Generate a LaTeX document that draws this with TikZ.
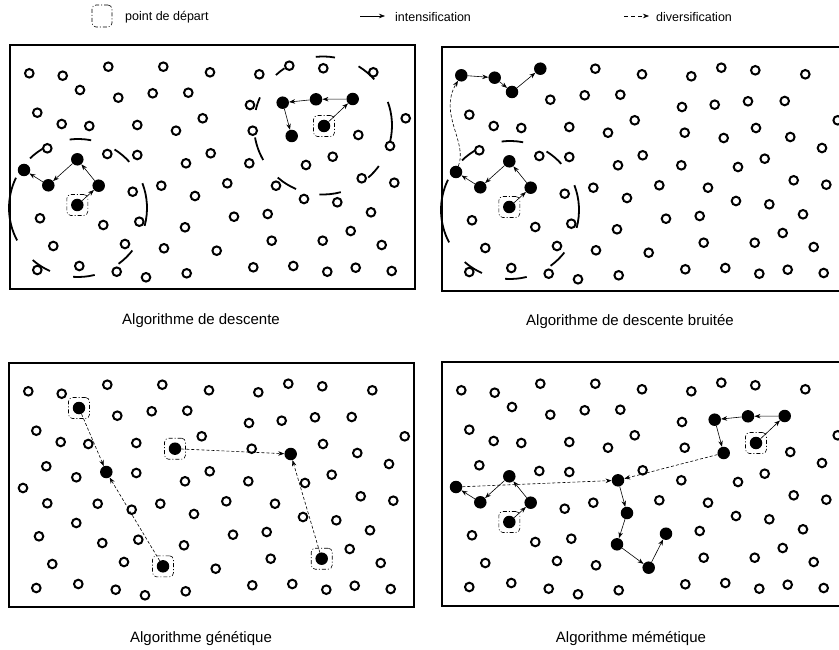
\documentclass[tikz,border=0pt]{standalone}
\usepackage{fontspec}
\setmainfont{Liberation Sans}
\usetikzlibrary{arrows.meta}

\tikzset{
  opt/.style={circle, draw, line width=2pt, minimum size=8.6pt, inner sep=0pt},
  fpt/.style={circle, fill=black, minimum size=12.5pt, inner sep=0pt},
  startbox/.style={rectangle, rounded corners=4pt, draw, line width=0.6pt,
    dash pattern=on 4pt off 2pt on 1pt off 2pt, minimum width=21pt, minimum height=21pt, inner sep=0pt},
  intarrow/.style={-{Stealth[length=6pt,width=4.5pt]}, line width=0.6pt},
  divarrow/.style={-{Stealth[length=6pt,width=4.5pt]}, line width=0.6pt, dash pattern=on 3pt off 2pt},
  panelframe/.style={line width=2pt},
  bigarc/.style={line width=1.8pt},
  lgd/.style={font=\fontsize{12.5}{14}\selectfont, inner sep=0pt},
  lbl/.style={font=\fontsize{15}{17}\selectfont, inner sep=0pt},
}

\newcommand\basepts{29.3/73.3, 62.7/75.7, 108.3/66.7, 163.3/66.7, 210/72.3, 80/90, 118.3/97.7, 152.7/93.3, 188.3/92.7, 37.3/112.7, 61.7/124, 89.3/126, 137.3/125, 176/130.7, 202.7/118.3, 47.3/148.3, 107.3/154, 137.3/155, 186/163.3, 210.7/153.3, 24/170, 48.3/185.3, 77.3/159.3, 98.7/185.7, 77.3/205, 132.7/191.7, 161.3/185.7, 195/196, 40/218.3, 103.3/225, 139.3/221.7, 185/227.3, 53.3/246, 125/244, 164/248.3, 216.7/250.7, 37.3/270, 79.3/266, 116.7/271.7, 146/277.3, 186.7/273.3, 259.3/74.3, 289.3/65.7, 323.3/68.3, 373.3/72.3, 250/105, 282.7/102.7, 316/99.3, 352.7/99, 291.7/136, 324/126, 405.7/118.3, 252.7/130.7, 358.3/135, 390/146, 249.3/163.3, 306/165, 332.7/156.7, 227.3/183.3, 276/185.7, 361.7/178.3, 394.3/182.7, 304/199, 337.3/202.3, 234/216.7, 267.7/214, 371/212.3, 350.7/231, 271.7/240.7, 322.7/240.7, 381.7/245, 253.3/267.3, 293.3/266, 327.3/271.7, 355.7/267.7, 391.7/271}

\newcommand\drawpanel[1]{%
  \draw[panelframe] (10,45) rectangle (415,289);
  \foreach \x/\y [count=\i] in \basepts {\node[opt] (#1\i) at (\x,\y) {};}
}
\newcommand\filledpt[2]{\node[fpt] (#1F#2) at (#1#2) {};}
\newcommand\startpt[2]{\node[startbox] (#1S#2) at (#1#2) {};}

\newcommand\leftcircle{%
  \foreach \a/\b in {79/97, 121/134, 154/208, 229/246, 266/284, 306/322, -15/21, 42/58}
    {\draw[bigarc] (78,208) ++(-\a:69) arc[start angle=-\a, end angle=-\b, radius=69];}
}
\newcommand\rightcircle{%
  \foreach \a/\b in {80/96, 42/59, -13/20, 311/324, 267/285, 229/247, 190/210, 156/167, 124/133}
    {\draw[bigarc] (323,125.5) ++(-\a:69) arc[start angle=-\a, end angle=-\b, radius=69];}
}

\begin{document}
\begin{tikzpicture}[x=1pt, y=-1pt]
\useasboundingbox (0,0) rectangle (839,650);
\clip (0,0) rectangle (839,650);

% legend
\node[startbox, minimum width=20pt, minimum height=22pt] (legbox) at (102,16) {};
\node[lgd, anchor=west] (legtext1) at (125,17) {point de départ};
\coordinate (la1) at (360,16);
\coordinate (la2) at (385,16);
\draw[intarrow] (la1) -- (la2);
\node[lgd, anchor=west] (legtext2) at (395,17) {intensification};
\coordinate (lb1) at (624,16);
\coordinate (lb2) at (649,16);
\draw[divarrow, dash pattern=on 4pt off 3pt] (lb1) -- (lb2);
\node[lgd, anchor=west] (legtext3) at (656,17) {diversification};

% ---------- top left: descente
\begin{scope}
  \drawpanel{tl}
  \leftcircle
  \rightcircle
  \foreach \k in {21,22,23,24,25,47,48,49,50,51} {\filledpt{tl}{\k}}
  \startpt{tl}{25}
  \startpt{tl}{51}
  \draw[intarrow] (tlF25) -- (tlF24);
  \draw[intarrow] (tlF24) -- (tlF23);
  \draw[intarrow] (tlF23) -- (tlF22);
  \draw[intarrow] (tlF22) -- (tlF21);
  \draw[intarrow] (tlF51) -- (tlF49);
  \draw[intarrow] (tlF49) -- (tlF48);
  \draw[intarrow] (tlF48) -- (tlF47);
  \draw[intarrow] (tlF47) -- (tlF50);
\end{scope}
\node[lbl] (cap1) at (201,321) {Algorithme de descente};

% ---------- top right: descente bruitee
\begin{scope}[shift={(432,2)}]
  \drawpanel{tr}
  \leftcircle
  \foreach \k in {21,22,23,24,25,1,2,6,3} {\filledpt{tr}{\k}}
  \startpt{tr}{25}
  \draw[intarrow] (trF25) -- (trF24);
  \draw[intarrow] (trF24) -- (trF23);
  \draw[intarrow] (trF23) -- (trF22);
  \draw[intarrow] (trF22) -- (trF21);
  \draw[divarrow] (trF21) .. controls (36,140) and (6,112) .. (trF1);
  \draw[intarrow] (trF1) -- (trF2);
  \draw[intarrow] (trF2) -- (trF6);
  \draw[intarrow] (trF6) -- (trF3);
\end{scope}
\node[lbl] (cap2) at (630,322) {Algorithme de descente bruitée};

% ---------- bottom left: genetique
\begin{scope}[shift={(-1,318)}]
  \drawpanel{bl}
  \foreach \k in {6,17,14,35,50,70} {\filledpt{bl}{\k}}
  \foreach \k in {6,14,35,70} {\startpt{bl}{\k}}
  \draw[divarrow] (blF6) -- (blF17);
  \draw[divarrow] (blF35) -- (blF17);
  \draw[divarrow] (blF14) -- (blF50);
  \draw[divarrow] (blF70) -- (blF50);
\end{scope}
\node[lbl] (cap3) at (201,639) {Algorithme génétique};

% ---------- bottom right: memetique
\begin{scope}[shift={(432,317)}]
  \drawpanel{br}
  \foreach \k in {21,22,23,24,25,47,48,49,50,51,19,28,32,36,65} {\filledpt{br}{\k}}
  \startpt{br}{25}
  \startpt{br}{51}
  \draw[intarrow] (brF25) -- (brF24);
  \draw[intarrow] (brF24) -- (brF23);
  \draw[intarrow] (brF23) -- (brF22);
  \draw[intarrow] (brF22) -- (brF21);
  \draw[intarrow] (brF51) -- (brF49);
  \draw[intarrow] (brF49) -- (brF48);
  \draw[intarrow] (brF48) -- (brF47);
  \draw[intarrow] (brF47) -- (brF50);
  \draw[divarrow] (brF21) -- (brF19);
  \draw[divarrow] (brF50) -- (brF19);
  \draw[intarrow] (brF19) -- (brF28);
  \draw[intarrow] (brF28) -- (brF32);
  \draw[intarrow] (brF32) -- (brF36);
  \draw[intarrow] (brF36) -- (brF65);
\end{scope}
\node[lbl] (cap4) at (631,639) {Algorithme mémétique};
\end{tikzpicture}
\end{document}
